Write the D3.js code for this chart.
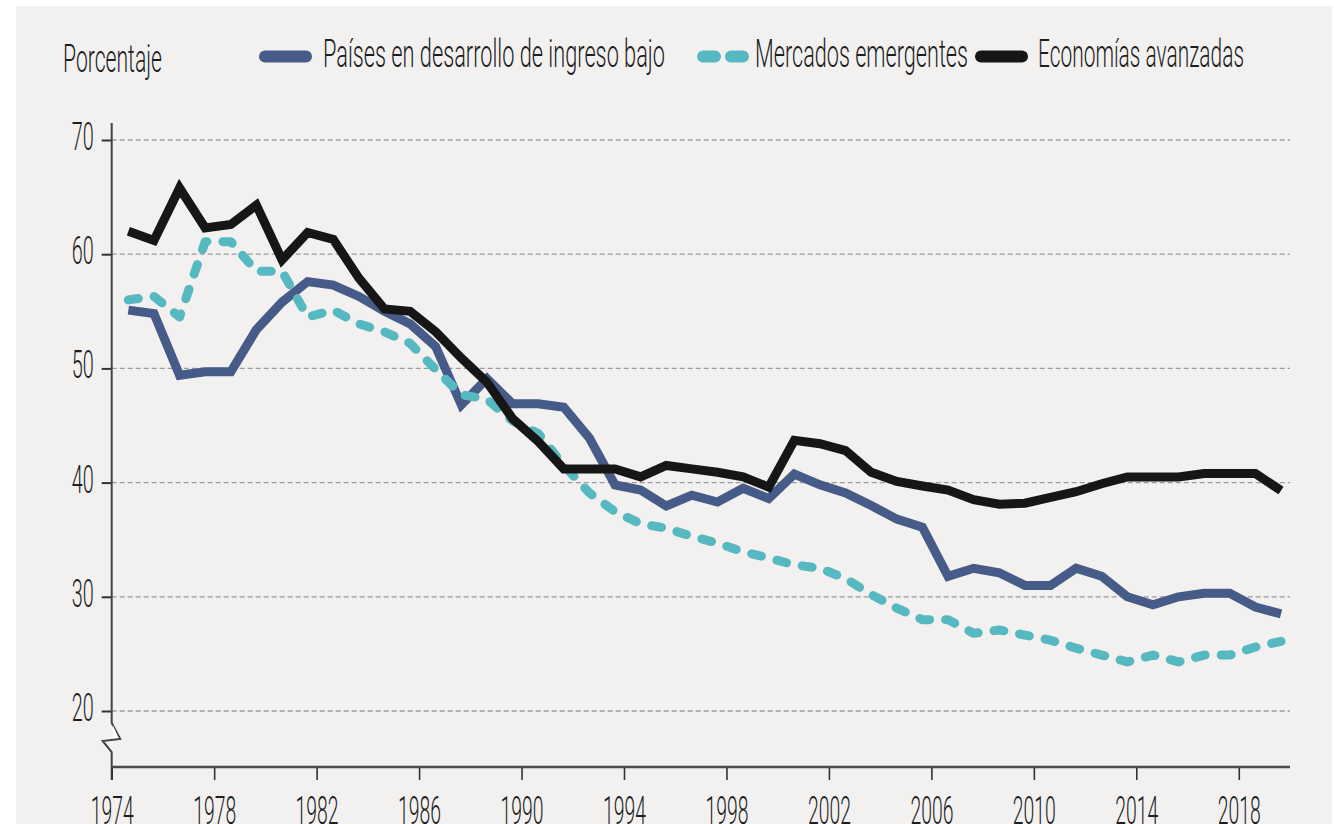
<!DOCTYPE html>
<html>
<head>
<meta charset="utf-8">
<script src="https://cdn.jsdelivr.net/npm/d3@7"></script>
<style>
  body { margin: 0; background: #ffffff; }
  text { font-family: Roboto, "Liberation Sans", sans-serif; font-weight: 300; fill: #1e1e1e; }
</style>
</head>
<body>
<div id="chart"></div>
<script>
// Data
let years = d3.range(1974, 2020);   // 46 annual points
let seriesNames = ["Países en desarrollo de ingreso bajo", "Mercados emergentes", "Economías avanzadas"];
let lowIncome = [55.1, 54.8, 49.4, 49.7, 49.7, 53.4, 55.8, 57.6, 57.3, 56.3,
                 55.0, 53.9, 51.9, 46.8, 49.1, 46.9, 46.9, 46.6, 43.9, 39.8,
                 39.35, 37.95, 38.9, 38.3, 39.5, 38.6, 40.75, 39.8, 39.1, 38.0,
                 36.8, 36.1, 31.8, 32.5, 32.1, 31.0, 31.0, 32.5, 31.8, 30.0,
                 29.3, 30.0, 30.3, 30.3, 29.1, 28.5];
let emerging = [56.0, 56.3, 54.5, 61.1, 61.1, 58.5, 58.5, 54.5, 55.1, 53.9,
                53.2, 52.2, 49.9, 47.7, 47.3, 45.4, 44.3, 41.5, 39.1, 37.45,
                36.4, 36.0, 35.3, 34.7, 33.95, 33.4, 32.8, 32.5, 31.6, 30.2,
                29.0, 28.0, 28.0, 26.8, 27.1, 26.65, 26.2, 25.5, 24.9, 24.3,
                24.9, 24.3, 24.9, 24.9, 25.6, 26.1];
let advanced = [62.0, 61.2, 65.8, 62.3, 62.6, 64.3, 59.5, 61.9, 61.3, 57.9,
                55.2, 55.0, 53.2, 50.9, 48.8, 45.6, 43.6, 41.2, 41.2, 41.2,
                40.5, 41.5, 41.2, 40.9, 40.5, 39.6, 43.7, 43.4, 42.8, 40.9,
                40.1, 39.7, 39.35, 38.5, 38.1, 38.2, 38.7, 39.2, 39.9, 40.5,
                40.5, 40.5, 40.8, 40.8, 40.8, 39.3];
let yTicks = [20, 30, 40, 50, 60, 70];
let xTicks = [1974, 1978, 1982, 1986, 1990, 1994, 1998, 2002, 2006, 2010, 2014, 2018];
let yLabel = "Porcentaje";

let svgWidth = 1334;
let svgHeight = 824;
let colors = ["#465b88", "#56b8c1", "#161616"];

let svg = d3.select("#chart").append("svg")
  .attr("width", svgWidth)
  .attr("height", svgHeight);

// background panel
svg.append("rect").attr("width", svgWidth).attr("height", svgHeight).attr("fill", "#ffffff");
svg.append("rect").attr("x", 16).attr("y", 6).attr("width", 1316).attr("height", 818).attr("fill", "#f2f1f0");

// scales (points sit a bit after the year tick)
let xOffset = 0.65;
let xScale = d3.scaleLinear().domain([1974, 2020]).range([111.7, 1290]);
let yScale = d3.scaleLinear().domain([20, 70]).range([711, 140]);
let axisY = yScale(20) + 56;     // x axis line position
let axisTop = yScale(70) - 17;

// gridlines
svg.append("g").selectAll("line")
  .data(yTicks)
  .enter()
  .append("line")
  .attr("x1", xScale(1974))
  .attr("x2", xScale(2020))
  .attr("y1", d => yScale(d))
  .attr("y2", d => yScale(d))
  .attr("stroke", "#9c9c9c")
  .attr("stroke-width", 1.3)
  .attr("stroke-dasharray", "5,3");

// y axis
let leftAxis = d3.axisLeft(yScale).tickValues(yTicks).tickSize(10).tickPadding(8);
let yAxis = svg.append("g")
  .attr("transform", `translate(${xScale(1974)},0)`)
  .call(leftAxis);
yAxis.select(".domain").remove();
yAxis.selectAll(".tick line").attr("stroke", "#333").attr("stroke-width", 2);
yAxis.selectAll(".tick text")
  .attr("font-size", 38)
  .attr("dy", "0.25em")
  .attr("textLength", d => String(d).length * 11)
  .attr("lengthAdjust", "spacingAndGlyphs");

// y axis line with break
let ax = xScale(1974);
let y20 = yScale(20);
svg.append("path")
  .attr("d", `M${ax},${axisTop}V${y20 + 12}L${ax + 8.5},${y20 + 28}L${ax - 9},${y20 + 30}L${ax},${y20 + 41}V${axisY + 13}`)
  .attr("fill", "none")
  .attr("stroke", "#444")
  .attr("stroke-width", 2);
svg.append("path")
  .attr("d", `M${ax + 1},${y20 + 14}L${ax + 7},${y20 + 27}L${ax + 1},${y20 + 27}Z`)
  .attr("fill", "#ffffff");

// x axis
let bottomAxis = d3.axisBottom(xScale).tickValues(xTicks).tickSize(13).tickFormat(d3.format("d"));
let xAxis = svg.append("g")
  .attr("transform", `translate(0,${axisY})`)
  .call(bottomAxis);
xAxis.select(".domain").remove();
xAxis.selectAll(".tick line").attr("stroke", "#333").attr("stroke-width", 1.6);
xAxis.selectAll(".tick text")
  .attr("font-size", 38)
  .attr("y", 30)
  .attr("dy", "0.72em")
  .attr("textLength", 43)
  .attr("lengthAdjust", "spacingAndGlyphs");
svg.append("line")
  .attr("x1", xScale(1974)).attr("x2", xScale(2020))
  .attr("y1", axisY).attr("y2", axisY)
  .attr("stroke", "#4a4a4a")
  .attr("stroke-width", 2.6);

// lines
let lineGen = d3.line()
  .x((d, i) => xScale(years[i] + xOffset))
  .y(d => yScale(d));

let allSeries = [lowIncome, emerging, advanced];
let drawOrder = [0, 1, 2];
drawOrder.forEach(function(k) {
  let path = svg.append("path")
    .datum(allSeries[k])
    .attr("d", lineGen)
    .attr("fill", "none")
    .attr("stroke", colors[k])
    .attr("stroke-width", 9);
  if (k === 1) {
    path.attr("stroke-dasharray", "10,16")
      .attr("stroke-linecap", "round")
      .attr("stroke-linejoin", "round");
  } else {
    path.attr("stroke-linejoin", "miter").attr("stroke-miterlimit", 3);
  }
});

// y label
svg.append("text")
  .attr("x", 63)
  .attr("y", 71.5)
  .attr("font-size", 38)
  .attr("textLength", 99)
  .attr("lengthAdjust", "spacingAndGlyphs")
  .text(yLabel);

// legend
let legendX = [259, 697, 975];
let legendTextX = [323, 755, 1038];
let legendTextW = [342, 213, 206];
let legendY = 56.5;
seriesNames.forEach(function(name, k) {
  let sw = svg.append("line")
    .attr("x1", legendX[k] + 6)
    .attr("x2", legendX[k] + 47)
    .attr("y1", legendY)
    .attr("y2", legendY)
    .attr("stroke", colors[k])
    .attr("stroke-width", 12)
    .attr("stroke-linecap", "round");
  if (k === 1) {
    sw.attr("x2", legendX[k] + 49).attr("stroke-dasharray", "12,16");
  }
  svg.append("text")
    .attr("x", legendTextX[k])
    .attr("y", 66.5)
    .attr("font-size", 38)
    .attr("textLength", legendTextW[k])
    .attr("lengthAdjust", "spacingAndGlyphs")
    .text(name);
});
</script>
</body>
</html>
